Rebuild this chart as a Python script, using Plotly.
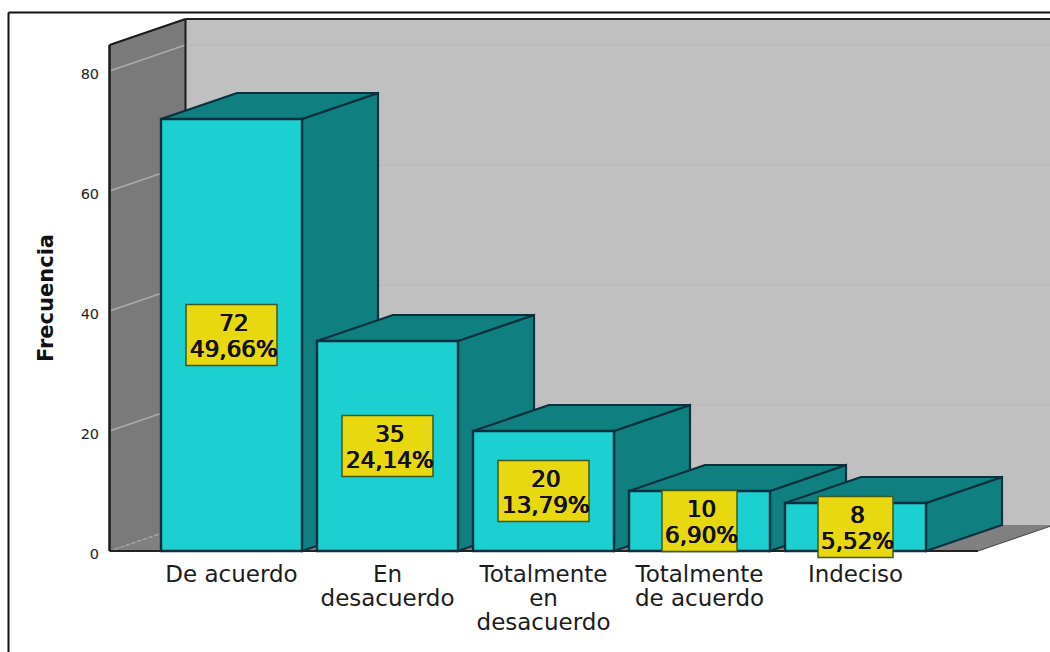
import plotly.graph_objects as go

categories = ["De acuerdo", "En desacuerdo", "Totalmente en desacuerdo", "Totalmente de acuerdo", "Indeciso"]
tick_lines = [["De acuerdo"], ["En", "desacuerdo"], ["Totalmente", "en", "desacuerdo"], ["Totalmente", "de acuerdo"], ["Indeciso"]]
values = [72, 35, 20, 10, 8]
percents = ["49,66%", "24,14%", "13,79%", "6,90%", "5,52%"]
y_ticks = [0, 20, 40, 60, 80]
box_widths_px = [91, 91, 91, 75, 75]

W, H = 1050, 652
L, T, B = 104, 14, 562      # plot area pixels
X0, STEP = 231.5, 156.0     # pixel of first category, px per category
Y0, PXU = 551.0, 6.0        # pixel of value 0, px per unit
xr = [(L - X0) / STEP, (W - X0) / STEP]
yr = [(Y0 - B) / PXU, (Y0 - T) / PXU]
DX, DY = 76 / STEP, 26 / PXU   # depth of the 3D box
BW = 141 / STEP
WALL_X = (109.5 - X0) / STEP
WALL_TOP = 84.33
FLOOR_END = (978 - X0) / STEP
XEND = xr[1] + 0.2

FRONT, DARK, EDGE = "#1CCFD0", "#0F7F80", "#0A2F3D"
BACK, SIDEW, FLOOR = "#C0C0C0", "#7A7A7A", "#808080"
YELLOW, YEDGE = "#E8D80F", "#3F5A1A"


def poly(pts):
    return "M " + " L ".join(f"{x:.4f} {y:.4f}" for x, y in pts) + " Z"


def pshape(pts, fill, line=EDGE, w=2.2, layer="below"):
    return dict(type="path", path=poly(pts), xref="x", yref="y", fillcolor=fill,
                line=dict(color=line, width=w), layer=layer)


def lshape(x0, y0, x1, y1, color, w=1.5, dash="solid"):
    return dict(type="line", x0=x0, y0=y0, x1=x1, y1=y1, xref="x", yref="y",
                line=dict(color=color, width=w, dash=dash), layer="below")


shapes = []
# back wall, floor, side wall
shapes.append(pshape([(WALL_X + DX, DY), (XEND, DY), (XEND, WALL_TOP + DY), (WALL_X + DX, WALL_TOP + DY)], BACK, BACK, 0))
shapes.append(pshape([(WALL_X, 0), (WALL_X + DX, DY), (FLOOR_END + DX, DY), (FLOOR_END, 0)], FLOOR, FLOOR, 0))
shapes.append(pshape([(WALL_X, 0), (WALL_X, WALL_TOP), (WALL_X + DX, WALL_TOP + DY), (WALL_X + DX, DY)], SIDEW, SIDEW, 0))
for t in y_ticks:
    if t:
        shapes.append(lshape(WALL_X + DX, t + DY, XEND, t + DY, "#BABABA", 1.5))
        shapes.append(lshape(WALL_X, t, WALL_X + DX, t + DY, "#ABABAB", 1.5))
shapes.append(lshape(WALL_X, 0, WALL_X + DX, DY, "#A8A8A8", 1.5, "dot"))
shapes.append(lshape(WALL_X + DX, WALL_TOP + DY, XEND, WALL_TOP + DY, "#222222", 2))
shapes.append(lshape(WALL_X + DX, DY, WALL_X + DX, WALL_TOP + DY, "#1a1a1a", 2))
shapes.append(lshape(WALL_X, WALL_TOP, WALL_X + DX, WALL_TOP + DY, "#1a1a1a", 2))
shapes.append(lshape(WALL_X, 0, WALL_X, WALL_TOP, "#1a1a1a", 2.5))
shapes.append(lshape(WALL_X, 0, FLOOR_END, 0, "#222222", 2))
shapes.append(lshape(FLOOR_END, 0, FLOOR_END + DX, DY, "#444444", 1))
# 3D faces
for i, v in enumerate(values):
    x0, x1 = i - BW / 2, i + BW / 2
    shapes.append(pshape([(x1, 0), (x1, v), (x1 + DX, v + DY), (x1 + DX, DY)], DARK))
    shapes.append(pshape([(x0, v), (x0 + DX, v + DY), (x1 + DX, v + DY), (x1, v)], DARK))
# yellow boxes
for i, v in enumerate(values):
    hw = box_widths_px[i] / 2 / STEP
    hh = 30.5 / PXU
    shapes.append(dict(type="rect", xref="x", yref="y", x0=i - hw, x1=i + hw, y0=v / 2 - hh, y1=v / 2 + hh,
                       fillcolor=YELLOW, line=dict(color=YEDGE, width=1.5), layer="above"))
# outer frame
px = lambda p: (p - L) / (W - L)
py = lambda p: (B - p) / (B - T)
for a in [(8.5, 12.5, W, 12.5), (8.5, 12.5, 8.5, H)]:
    shapes.append(dict(type="line", xref="paper", yref="paper", x0=px(a[0]), y0=py(a[1]), x1=px(a[2]), y1=py(a[3]),
                       line=dict(color="#111111", width=2)))

annotations = []
for i, v in enumerate(values):
    annotations.append(dict(x=i, y=v / 2, xref="x", yref="y", xshift=2, yshift=-1, showarrow=False,
                            text=f'<span style="font-size:23px">{v}<br>{percents[i]}</span>',
                            font=dict(family="DejaVu Sans", size=19.7, color="#111111",
                                      shadow="0.6px 0 0 #111111, -0.4px 0 0 #111111")))
# axis title
annotations.append(dict(x=px(46), y=py(298), xref="paper", yref="paper", xanchor="center", yanchor="middle",
                        showarrow=False, textangle=-90,
                        text="<b>Frecuencia</b>", font=dict(family="DejaVu Sans", size=21, color="#111111")))

ticktext = ["<br>".join(f'<span style="font-size:23px">{s}</span>' for s in lines) for lines in tick_lines]

fig = go.Figure(go.Bar(x=list(range(len(values))), y=values, width=BW,
                       marker=dict(color=FRONT, line=dict(color=EDGE, width=2.4)),
                       customdata=categories, hoverinfo="skip"))
fig.update_layout(
    width=W, height=H, showlegend=False, paper_bgcolor="white", plot_bgcolor="white",
    margin=dict(l=L, r=0, t=T, b=H - B, pad=0), shapes=shapes, annotations=annotations,
    font=dict(family="DejaVu Sans", color="#222222"),
    xaxis=dict(range=xr, tickmode="array", tickvals=list(range(len(values))), ticktext=ticktext,
               showgrid=False, zeroline=False, showline=False, ticks="", tickangle=0,
               tickfont=dict(family="DejaVu Sans", size=18.5, color="#1c1c1c")),
    yaxis=dict(range=yr, tickmode="array", tickvals=y_ticks, showgrid=False, zeroline=False, showline=False,
               ticks="outside", ticklen=1, tickcolor="rgba(0,0,0,0)", ticklabelshift=3,
               tickfont=dict(family="DejaVu Sans", size=14.5, color="#222222")),
)
fig.write_html("out.html", config={"displayModeBar": False},
               post_script="document.body.style.margin='0';document.body.style.overflow='hidden';")
